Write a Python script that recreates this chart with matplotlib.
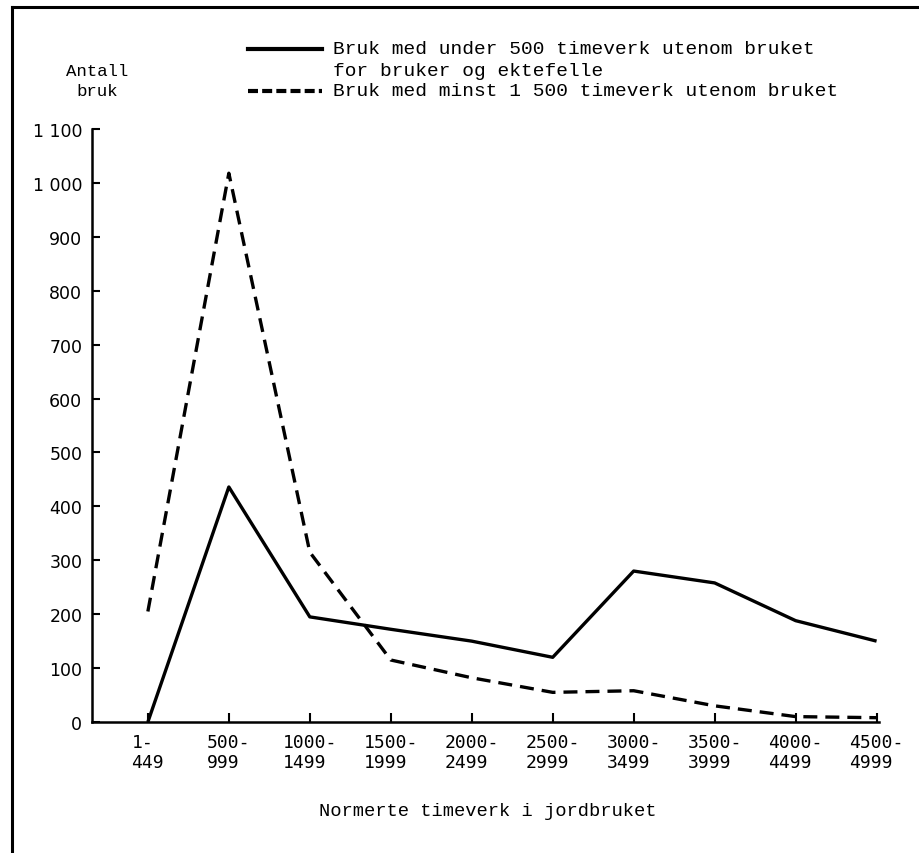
import matplotlib.pyplot as plt
from matplotlib.lines import Line2D

# Normerte timeverk i jordbruket (grupper)
grupper = ["1-\n449", "500-\n999", "1000-\n1499", "1500-\n1999", "2000-\n2499",
           "2500-\n2999", "3000-\n3499", "3500-\n3999", "4000-\n4499", "4500-\n4999"]
# Antall bruk
under_500 = [0, 436, 195, 172, 150, 120, 280, 258, 188, 150]
minst_1500 = [205, 1018, 315, 115, 82, 55, 58, 30, 10, 8]

y_ticks = [0, 100, 200, 300, 400, 500, 600, 700, 800, 900, 1000, 1100]
y_ticklabels = ["0", "100", "200", "300", "400", "500", "600", "700", "800", "900",
                "1 000", "1 100"]

W, H = 920, 854
fig = plt.figure(figsize=(W / 100, H / 100), dpi=100)
ax = fig.add_axes([92 / W, 1 - 723 / H, (879 - 92) / W, (723 - 130) / H])

x = list(range(len(grupper)))
ax.plot(x, under_500, color="black", lw=2.4, solid_capstyle="butt")
ax.plot(x, minst_1500, color="black", lw=2.4, dashes=(4.2, 2.4))

ax.set_xlim(-0.69, 9.03)
ax.set_ylim(0, 1100)
for s in ["top", "right"]:
    ax.spines[s].set_visible(False)
for s in ["left", "bottom"]:
    ax.spines[s].set_linewidth(1.8)

ax.set_yticks(y_ticks)
ax.set_yticklabels(y_ticklabels, fontsize=12.5, family="DejaVu Sans")
ax.set_xticks(x)
ax.set_xticklabels(grupper, fontsize=13, family="DejaVu Sans Mono",
                   multialignment="left", linespacing=1.15)
ax.tick_params(axis="y", direction="in", length=6, width=1.5, pad=7)
ax.tick_params(axis="x", direction="in", length=6.5, width=1.5, pad=8)

# aksetitler
fig.text(488 / W, 1 - 812 / H, "Normerte timeverk i jordbruket", ha="center",
         va="center", fontsize=13.5, family="Liberation Mono")
fig.text(97 / W, 1 - 71 / H, "Antall", ha="center", va="center",
         fontsize=12.5, family="Liberation Mono")
fig.text(97 / W, 1 - 92 / H, "bruk", ha="center", va="center",
         fontsize=12.5, family="Liberation Mono")

# tegnforklaring
fig.add_artist(Line2D([248 / W, 322 / W], [1 - 50 / H, 1 - 50 / H],
                      color="black", lw=3))
fig.add_artist(Line2D([248 / W, 322 / W], [1 - 92 / H, 1 - 92 / H],
                      color="black", lw=3, dashes=(2.4, 1.0)))
fig.text(333 / W, 1 - 50 / H, "Bruk med under 500 timeverk utenom bruket",
         ha="left", va="center", fontsize=14, family="Liberation Mono")
fig.text(333 / W, 1 - 71 / H, "for bruker og ektefelle",
         ha="left", va="center", fontsize=14, family="Liberation Mono")
fig.text(333 / W, 1 - 92 / H, "Bruk med minst 1 500 timeverk utenom bruket",
         ha="left", va="center", fontsize=14, family="Liberation Mono")

# ramme
fig.add_artist(Line2D([12 / W, 12 / W], [0, 1 - 8 / H], color="black", lw=2.2))
fig.add_artist(Line2D([12 / W, 1], [1 - 8 / H, 1 - 8 / H], color="black", lw=2.2))

fig.savefig("out.png", dpi=100)
